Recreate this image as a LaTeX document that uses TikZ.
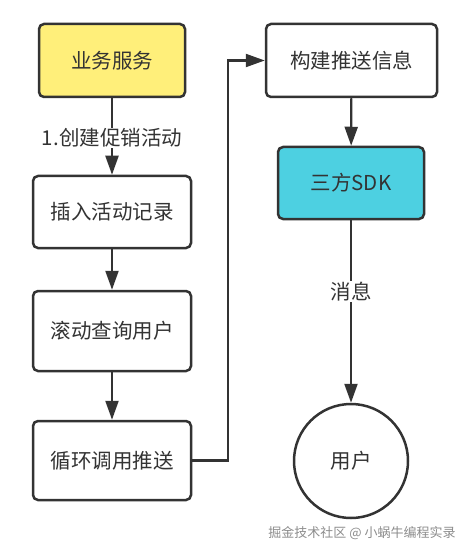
\documentclass[tikz,border=0pt]{standalone}
\usepackage{fontspec}
\setmainfont{Noto Sans CJK SC}
\usetikzlibrary{arrows.meta}
\definecolor{ln}{HTML}{333333}
\definecolor{yel}{HTML}{FFEF7A}
\definecolor{cya}{HTML}{4DD0E1}
\tikzset{
  box/.style={draw=ln, line width=2.5pt, rounded corners=5pt, fill=white, text=ln,
    font=\fontsize{20.5}{24}\selectfont, inner sep=0pt},
  arr/.style={draw=ln, line width=2.2pt, -{Triangle[length=19pt,width=13pt]}},
  lbl/.style={fill=white, text=ln, font=\fontsize{20.5}{24}\selectfont, inner sep=1pt},
}
\begin{document}
\begin{tikzpicture}[x=1pt,y=-1pt]
\useasboundingbox (0,0) rectangle (468,553);
\node[box, fill=yel, minimum width=146pt, minimum height=73pt] (b1) at (112,60.5) {业务服务};
\node[box, minimum width=158pt, minimum height=72pt] (b2) at (112,212) {插入活动记录};
\node[box, minimum width=158pt, minimum height=80pt] (b3) at (112,331) {滚动查询用户};
\node[box, minimum width=158pt, minimum height=79pt] (b4) at (112,460.5) {循环调用推送};
\node[box, minimum width=171pt, minimum height=73pt] (b5) at (351.5,60.5) {构建推送信息};
\node[box, fill=cya, minimum width=146pt, minimum height=72pt] (b6) at (351,183) {三方SDK};
\node[box, circle, minimum size=114pt, rounded corners=0pt] (u) at (351,461) {用户};
\coordinate (t) at (228,60.5);
\draw[arr] (b1) -- (b2) node[lbl, pos=0.52] (l1) {1.创建促销活动};
\draw[arr] (b2) -- (b3);
\draw[arr] (b3) -- (b4);
\draw[arr] (b4.east) -| (t) -- (b5.west);
\draw[arr] (b5) -- (b6);
\draw[arr] (b6) -- (u) node[lbl, pos=0.39] (l2) {消息};
\node[text=black!45, font=\fontsize{13}{16}\selectfont, inner sep=0pt] (wm) at (362,533) {掘金技术社区 @ 小蜗牛编程实录};
\end{tikzpicture}
\end{document}
